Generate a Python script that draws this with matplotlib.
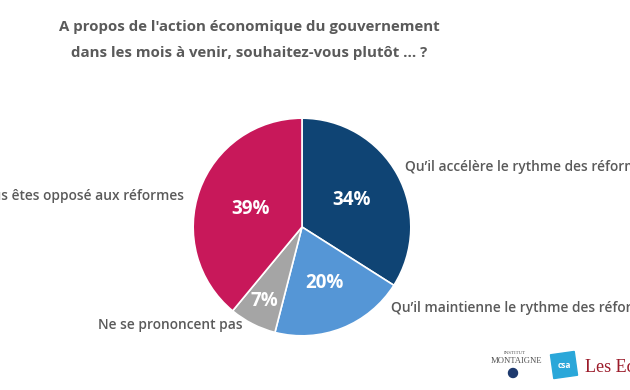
import numpy as np
import matplotlib; matplotlib.use("Agg")
import matplotlib.pyplot as plt
from matplotlib.patches import Rectangle, Circle
from matplotlib.transforms import Affine2D

# ── data ──────────────────────────────────────────────────────────────────────
title = "A propos de l'action économique du gouvernement\ndans les mois à venir, souhaitez-vous plutôt ... ?"
labels = ["Qu’il accélère le rythme des réformes",
          "Qu’il maintienne le rythme des réformes",
          "Ne se prononcent pas",
          "Vous êtes opposé aux réformes"]
values = [34, 20, 7, 39]
colors = ["#0f4474", "#5596d6", "#a5a5a5", "#c8185a"]
pct_dist = [0.52, 0.55, 0.76, 0.50]

W, H = 630, 390
TXT = "#5a5a5a"
plt.rcParams['font.family'] = ['Open Sans', 'DejaVu Sans']

fig = plt.figure(figsize=(W / 100, H / 100), dpi=100)
pxT = Affine2D().scale(1, -1).translate(0, H)   # pixel coords from top-left

# ── pie ───────────────────────────────────────────────────────────────────────
cx, cy, r = 302, 227, 111
ax = fig.add_axes([(cx - r) / W, (H - cy - r) / H, 2 * r / W, 2 * r / H])
wedges, _ = ax.pie(values, colors=colors, startangle=90, counterclock=False,
                   radius=1, wedgeprops=dict(edgecolor="white", linewidth=1.2))
ax.set_xlim(-1.02, 1.02); ax.set_ylim(-1.02, 1.02)
ax.set_aspect("equal"); ax.axis("off")

for w, v, d in zip(wedges, values, pct_dist):
    a = np.deg2rad((w.theta1 + w.theta2) / 2)
    ax.text(d * np.cos(a), d * np.sin(a), f"{v}%", color="white",
            fontsize=13.5, fontweight="bold", ha="center", va="center")

# ── title / labels ────────────────────────────────────────────────────────────
fig.text(249 / W, 1 - 40 / H, title, ha="center", va="center", color=TXT,
         fontsize=10.8, fontweight="bold", linespacing=2.0)

def lab(x, y, s, ha="left"):
    fig.text(x / W, 1 - y / H, s, ha=ha, va="center", color=TXT,
             fontsize=9.9, fontweight="semibold")

lab(405, 167, labels[0])
lab(391, 308, labels[1])
lab(98, 325, labels[2])
lab(184, 196, labels[3], ha="right")

# ── logos (approx.) ───────────────────────────────────────────────────────────
fig.text(515 / W, 1 - 353 / H, "INSTITUT", ha="center", va="center",
         fontsize=3.6, color="#555555", family="Liberation Serif")
fig.text(516 / W, 1 - 361 / H, "MONTAIGNE", ha="center", va="center",
         fontsize=6.2, color="#555555", family="Liberation Serif")
fig.patches.append(Circle((513, 373), 4.5, color="#1e3a6e",
                          transform=pxT, figure=fig))
sq = Rectangle((552, 353), 24, 24, color="#2aa7d9", figure=fig,
               transform=Affine2D().rotate_deg_around(564, 365, -8) + pxT)
fig.patches.append(sq)
fig.text(564 / W, 1 - 365 / H, "csa", ha="center", va="center", fontsize=6,
         color="white", fontweight="bold")
fig.text(585 / W, 1 - 368 / H, "Les Echos", ha="left", va="center", fontsize=13,
         color="#9b1b2a", family="Liberation Serif")

fig.savefig("out.png", dpi=100, facecolor="white")
